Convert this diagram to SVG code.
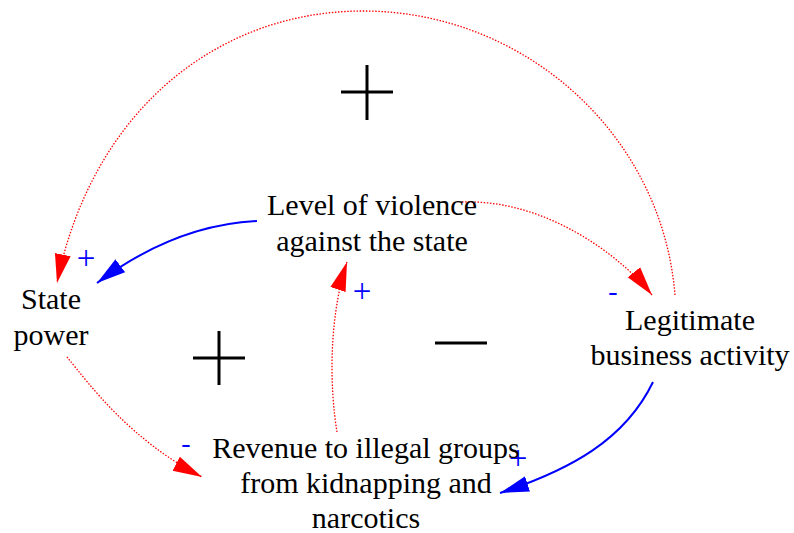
<svg xmlns="http://www.w3.org/2000/svg" width="794" height="533" viewBox="0 0 794 533">
<style>
.lbl{font-family:"Liberation Serif","Times New Roman",serif;font-size:30px;fill:#000;text-anchor:middle}
.pol{font-family:"Liberation Serif","Times New Roman",serif;font-size:28px;fill:#0000ff;text-anchor:middle}
.plus{font-size:33px}
.red{fill:none;stroke:#ff0000;stroke-width:1.3;stroke-dasharray:1.5 1.6}
.blue{fill:none;stroke:#0000ff;stroke-width:2}
.sym{fill:none;stroke:#000;stroke-width:3}
</style>
<defs>
<marker id="ahR" markerUnits="userSpaceOnUse" markerWidth="30" markerHeight="18" refX="29" refY="8" orient="auto" viewBox="0 0 30 16"><path d="M0,0 L29,8 L0,16 z" fill="#ff0000"/></marker>
<marker id="ahB" markerUnits="userSpaceOnUse" markerWidth="30" markerHeight="18" refX="29" refY="8" orient="auto" viewBox="0 0 30 16"><path d="M0,0 L29,8 L0,16 z" fill="#0000ff"/></marker>
</defs>
<rect width="794" height="533" fill="#fff"/>
<g id="loop-symbols">
<path class="sym" d="M341,92 H393 M367,65 V120"/>
<path class="sym" d="M193,358 H245 M219,331 V385"/>
<path class="sym" d="M435,343 H487"/>
</g>
<g id="connectors">
<path class="red" d="M675,295 C662,134 524,11 363,11 C217,11 92,111 57,283" marker-end="url(#ahR)"/>
<path class="blue" d="M257,221 Q175,225 97,283" marker-end="url(#ahB)"/>
<path class="red" d="M462,202 C545,199 620,255 652,295" marker-end="url(#ahR)"/>
<path class="red" d="M67,357 C90,385 130,440 202,477" marker-end="url(#ahR)"/>
<path class="red" d="M337,432 C330,390 328,320 347,262" marker-end="url(#ahR)"/>
<path class="blue" d="M653,382 C625,440 570,470 500,493" marker-end="url(#ahB)"/>
<text class="pol plus" x="86" y="269">+</text>
<text class="pol" x="613" y="300">-</text>
<text class="pol plus" x="362" y="302">+</text>
<text class="pol" x="186" y="452">-</text>
<text class="pol plus" x="518" y="469">+</text>
</g>
<g id="state-power">
<text class="lbl" x="51" y="309">State</text>
<text class="lbl" x="51" y="345">power</text>
</g>
<g id="level-of-violence">
<text class="lbl" x="372" y="215">Level of violence</text>
<text class="lbl" x="372" y="251">against the state</text>
</g>
<g id="legitimate-business">
<text class="lbl" x="690" y="330">Legitimate</text>
<text class="lbl" x="690" y="365">business activity</text>
</g>
<g id="revenue">
<text class="lbl" x="366" y="458">Revenue to illegal groups</text>
<text class="lbl" x="366" y="493">from kidnapping and</text>
<text class="lbl" x="366" y="528">narcotics</text>
</g>
</svg>
